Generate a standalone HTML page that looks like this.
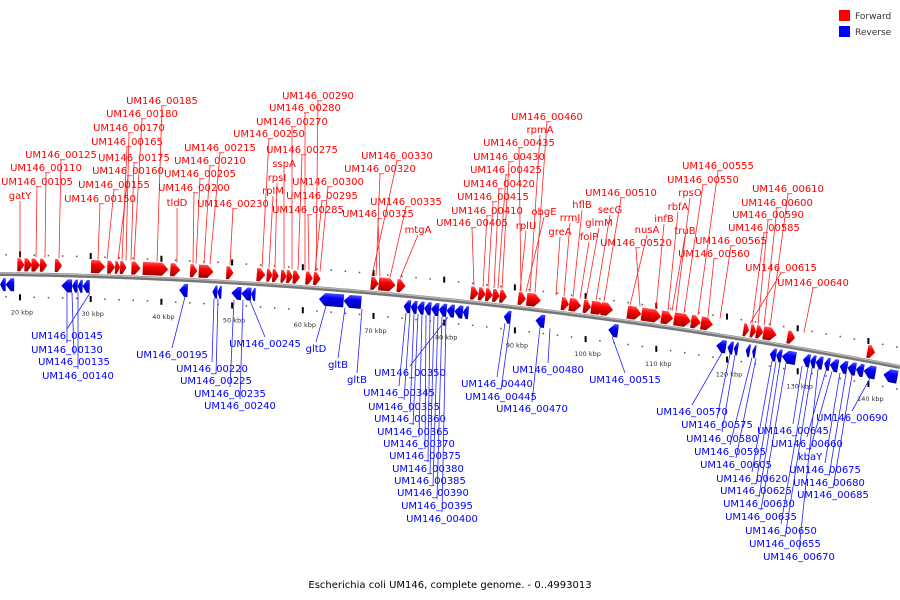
<!DOCTYPE html>
<html><head><meta charset="utf-8"><style>
body{margin:0;background:#fff}
svg{display:block;font-family:"DejaVu Sans","Liberation Sans",sans-serif}
</style></head><body>
<svg id="c" width="900" height="600" viewBox="0 0 900 600">
<defs>
<linearGradient id="gr" x1="0" y1="0" x2="0" y2="1"><stop offset="0" stop-color="#ff5050"/><stop offset="0.35" stop-color="#ff0000"/><stop offset="1" stop-color="#a00000"/></linearGradient>
<linearGradient id="gb" x1="0" y1="0" x2="0" y2="1"><stop offset="0" stop-color="#5050ff"/><stop offset="0.35" stop-color="#0000ff"/><stop offset="1" stop-color="#0000a0"/></linearGradient>
</defs>
<g>
<rect x="839" y="10" width="11" height="11" fill="#f00"/>
<text x="855" y="19" font-size="9" fill="#333">Forward</text>
<rect x="839" y="26" width="11" height="11" fill="#00f"/>
<text x="855" y="35" font-size="9" fill="#333">Reverse</text>
</g>
<text x="450" y="588" font-size="10" text-anchor="middle" fill="#000">Escherichia coli UM146, complete genome. - 0..4993013</text>
</svg>
<script>
const genes=[[19.6,20.6,1],[20.6,21.7,1],[21.6,22.8,1],[22.8,23.8,1],[24.9,25.9,1],[30.0,32.0,1],[32.3,33.4,1],[33.4,34.1,1],[34.1,35.0,1],[35.7,37.0,1],[37.3,40.9,1],[41.2,42.6,1],[44.0,45.0,1],[45.2,47.3,1],[49.1,50.1,1],[53.4,54.6,1],[54.8,55.6,1],[55.6,56.5,1],[56.8,57.6,1],[57.6,58.5,1],[58.5,59.5,1],[60.3,61.3,1],[61.4,62.4,1],[69.5,70.6,1],[70.6,73.0,1],[73.2,74.4,1],[83.6,84.7,1],[84.7,85.7,1],[85.7,86.7,1],[86.7,87.7,1],[87.7,88.7,1],[90.3,91.4,1],[91.5,93.5,1],[96.4,97.5,1],[97.5,99.2,1],[99.5,100.6,1],[100.6,102.6,1],[102.0,103.7,1],[105.7,107.7,1],[107.7,110.5,1],[110.5,112.2,1],[112.3,114.7,1],[114.7,116.1,1],[116.1,117.8,1],[122.1,122.9,1],[123.1,123.9,1],[123.9,124.9,1],[124.9,126.8,1],[128.3,129.4,1],[139.6,140.7,1],
[17.2,18.0,-1],[18.0,19.2,-1],[25.9,27.4,-1],[27.4,28.2,-1],[28.2,28.9,-1],[28.9,29.9,-1],[42.6,43.8,-1],[47.3,48.0,-1],[48.0,48.6,-1],[50.0,51.4,-1],[51.4,52.8,-1],[52.8,53.4,-1],[62.4,65.9,-1],[65.9,68.4,-1],[74.4,75.4,-1],[75.4,76.3,-1],[76.3,77.3,-1],[77.3,78.3,-1],[78.3,79.4,-1],[79.4,80.5,-1],[80.5,81.6,-1],[81.6,82.8,-1],[82.8,83.6,-1],[88.6,89.6,-1],[93.1,94.4,-1],[103.4,104.8,-1],[118.7,120.1,-1],[120.3,121.1,-1],[121.2,121.8,-1],[122.9,123.5,-1],[123.8,124.3,-1],[126.3,127.2,-1],[127.2,128.0,-1],[128.0,130.0,-1],[131.0,132.0,-1],[132.0,132.8,-1],[132.8,133.8,-1],[134.0,134.8,-1],[134.8,136.0,-1],[136.2,137.3,-1],[137.3,138.5,-1],[138.5,139.6,-1],[139.6,141.3,-1],[142.4,144.4,-1]];
const majorTicks=[20,30,40,50,60,70,80,90,100,110,120,130,140];
const tickLabels=["20 kbp","30 kbp","40 kbp","50 kbp","60 kbp","70 kbp","80 kbp","90 kbp","100 kbp","110 kbp","120 kbp","130 kbp","140 kbp"];
// forward labels: name, text x, text y, target x
const fwdLabels=[["UM146_00185",162,103,157],["UM146_00180",142,116,134],["UM146_00170",129,130,126],["UM146_00165",127,144,122],["UM146_00175",134,160,131],["UM146_00125",61,157,59],["UM146_00110",46,170,45],["UM146_00160",128,173,118],["UM146_00105",37,184,36],["UM146_00155",114,187,107],["UM146_00150",100,201,98],["gatY",20,198,20],["UM146_00215",220,150,210],["UM146_00210",210,163,204],["UM146_00205",200,176,196],["UM146_00200",194,190,193],["tldD",177,205,177],["UM146_00230",233,206,230],["UM146_00290",318,98,316],["UM146_00280",305,110,305],["UM146_00270",292,124,292],["UM146_00250",269,136,262],["UM146_00275",302,152,298],["sspA",284,166,284],["rpsI",277,180,275],["rplM",273,193,269],["UM146_00300",328,184,320],["UM146_00295",322,198,315],["UM146_00285",308,212,309],["UM146_00330",397,158,372],["UM146_00320",380,171,376],["UM146_00335",406,204,390],["UM146_00325",378,216,380],["mtgA",418,232,400],["UM146_00460",547,119,535],["rpmA",540,132,530],["UM146_00435",519,145,521],["UM146_00430",509,159,502],["UM146_00425",506,172,498],["UM146_00420",499,186,494],["UM146_00415",493,199,488],["UM146_00410",487,213,483],["UM146_00405",472,225,474],["obgE",544,214,526],["rplU",526,228,520],["greA",560,234,556],["rrmJ",570,220,564],["hflB",582,207,573],["secG",610,212,596],["glmM",599,225,586],["folP",589,239,580],["UM146_00510",621,195,604],["nusA",647,232,630],["UM146_00520",636,245,640],["UM146_00555",718,168,698],["UM146_00550",703,182,684],["rpsO",690,195,676],["rbfA",678,209,668],["infB",664,221,656],["truB",685,233,672],["UM146_00610",788,191,770],["UM146_00600",777,205,764],["UM146_00590",768,217,758],["UM146_00585",764,230,752],["UM146_00565",731,243,720],["UM146_00560",714,256,708],["UM146_00615",781,270,750],["UM146_00640",813,285,804]];
const revLabels=[["UM146_00145",67,338,90],["UM146_00130",67,352,67],["UM146_00135",74,364,72],["UM146_00140",78,378,78],["UM146_00195",172,357,185],["UM146_00220",212,371,214],["UM146_00225",216,383,218],["UM146_00235",230,396,234],["UM146_00240",240,408,243],["UM146_00245",265,346,250],["gltD",316,351,326],["gltB",338,367,345],["gltB",357,382,362],["UM146_00350",410,375,448],["UM146_00345",399,395,406],["UM146_00355",404,409,410],["UM146_00360",410,421,414],["UM146_00365",413,434,418],["UM146_00370",419,446,422],["UM146_00375",425,458,426],["UM146_00380",428,471,430],["UM146_00385",430,483,434],["UM146_00390",433,495,438],["UM146_00395",437,508,442],["UM146_00400",442,521,446],["UM146_00440",497,386,505],["UM146_00445",501,399,510],["UM146_00470",532,411,540],["UM146_00480",548,372,550],["UM146_00515",625,382,612],["UM146_00570",692,414,722],["UM146_00575",717,427,730],["UM146_00580",722,441,735],["UM146_00595",730,454,752],["UM146_00605",736,467,756],["UM146_00620",752,481,772],["UM146_00625",756,493,776],["UM146_00630",759,506,780],["UM146_00635",761,519,786],["UM146_00650",781,533,808],["UM146_00655",785,546,812],["UM146_00670",799,559,818],["UM146_00645",793,433,802],["UM146_00660",807,446,826],["kbaY",810,459,832],["UM146_00675",825,472,840],["UM146_00680",829,485,846],["UM146_00685",833,497,852],["UM146_00690",852,420,870]];
const NS="http://www.w3.org/2000/svg";
const svg=document.getElementById('c');
const X=k=>20+(k-20)*7.07;
const Y=x=>274+0.01333*x+0.0001*x*x;
const ang=x=>Math.atan(0.01333+0.0002*x)*180/Math.PI;
function mk(t,a,p){const e=document.createElementNS(NS,t);for(const k in a)e.setAttribute(k,a[k]);(p||svg).appendChild(e);return e;}
// backbone
let d="M0 "+Y(0);for(let x=5;x<=900;x+=5)d+=" L"+x+" "+Y(x).toFixed(2);
const bb=mk('path',{d:d,stroke:'#777','stroke-width':4,fill:'none'});


const bb2=mk('path',{d:d,stroke:'#bbb','stroke-width':1.2,fill:'none',transform:'translate(0,-1)'});


// minor dots
for(let k=18;k<=146;k+=2){if(k%10===0)continue;const x=X(k);if(x<0||x>900)continue;
 const a=mk('rect',{x:x-0.6,y:Y(x)-20,width:1.5,height:1.5,fill:'#555'});
 
 
 const b=mk('rect',{x:x-0.6,y:Y(x)+22,width:1.5,height:1.5,fill:'#555'});
 
 }
majorTicks.forEach((k,i)=>{const x=X(k);const y=Y(x);
 const a=mk('rect',{x:x-1,y:y-23,width:2,height:6,fill:'#000'});
 
 
 const b=mk('rect',{x:x-1,y:y+20,width:2,height:6,fill:'#000'});
 
 
 const t=mk('text',{x:x+2,y:y+40,'font-size':6.5,fill:'#333','text-anchor':'middle'});t.textContent=tickLabels[i];
 
 });
// genes
genes.forEach(g=>{const x1=X(g[0]),x2=X(g[1]);const w=x2-x1;const cx=(x1+x2)/2;const y0=Y(cx);
 const h=13;const hd=Math.min(6,w*0.6);let pts;
 if(g[2]>0){const t=y0-16;pts=[[x1,t],[x2-hd,t],[x2,t+h/2],[x2-hd,t+h],[x1,t+h]];}
 else{const t=y0+4;pts=[[x2,t],[x1+hd,t],[x1,t+h/2],[x1+hd,t+h],[x2,t+h]];}
 const p=mk('polygon',{points:pts.map(q=>q.join(',')).join(' '),fill:g[2]>0?'url(#gr)':'url(#gb)',transform:`rotate(${ang(cx).toFixed(2)} ${cx} ${y0})`});
 
 });
// labels
fwdLabels.forEach(l=>{const ln=mk('line',{x1:l[1],y1:l[2]+3,x2:l[3],y2:Y(l[3])-17,stroke:'#f22','stroke-width':0.8});
 
 
 const t=mk('text',{x:l[1],y:l[2]+1,'font-size':10,fill:'#f00','text-anchor':'middle'});t.textContent=l[0];
 
 });
revLabels.forEach(l=>{const ln=mk('line',{x1:l[3],y1:Y(l[3])+17,x2:l[1],y2:l[2]-9,stroke:'#22f','stroke-width':0.8});
 
 
 const t=mk('text',{x:l[1],y:l[2]+1,'font-size':10,fill:'#00f','text-anchor':'middle'});t.textContent=l[0];
 
 });
</script>
</body></html>
